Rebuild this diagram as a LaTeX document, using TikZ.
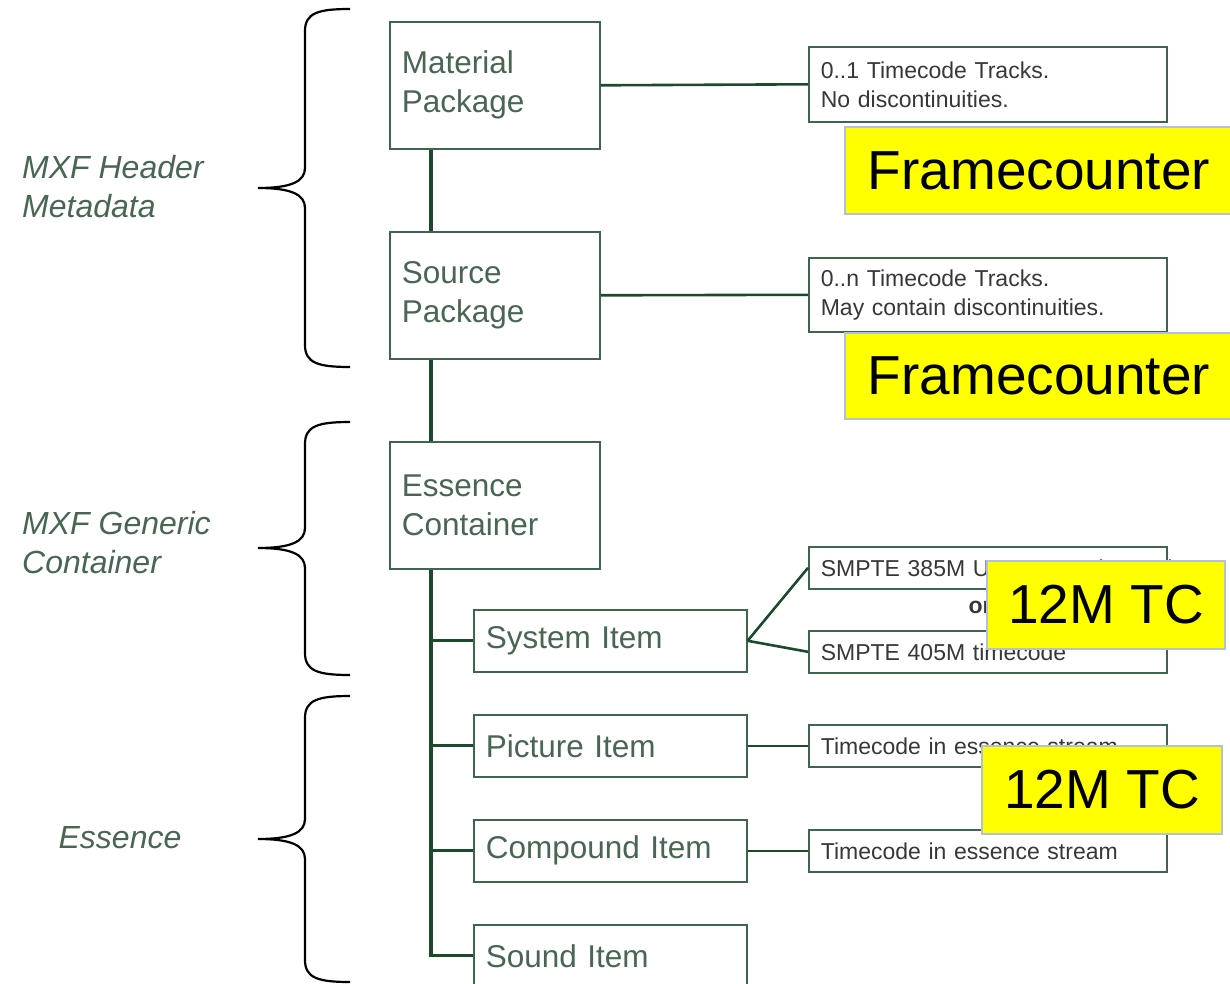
\documentclass[tikz,border=0pt]{standalone}
\usepackage{fontspec}
\setmainfont{Liberation Sans}
\usetikzlibrary{calc,positioning}
\definecolor{mxfline}{RGB}{30,74,44}
\definecolor{mxfbox}{RGB}{62,102,76}
\definecolor{mxftext}{RGB}{72,102,82}
\definecolor{mxfgray}{RGB}{55,55,55}
\definecolor{hiedge}{RGB}{180,192,214}
\definecolor{hifill}{RGB}{255,255,0}
% curly brace: top, tip, bottom (y in px)
\newcommand{\mxfbrace}[3]{%
  \draw[bracestyle] (350,#1) .. controls (318,#1) and (305,#1+4) .. (305,#1+22)
    -- (305,#2-20) .. controls (305,#2-6) and (290,#2) .. (258,#2)
    .. controls (290,#2) and (305,#2+6) .. (305,#2+20)
    -- (305,#3-22) .. controls (305,#3-4) and (318,#3) .. (350,#3);}

\begin{document}
\begin{tikzpicture}[x=1pt,y=-1pt,
    pkg/.style={draw=mxfbox, line width=1.6pt, fill=white, anchor=north west,
      minimum width=210pt, minimum height=127pt, text width=186pt, inner xsep=12pt,
      align=left, text=mxftext, font=\fontsize{31.5}{39}\selectfont},
    item/.style={pkg, minimum width=273pt, minimum height=62pt, text width=249pt},
    tcbox/.style={draw=mxfbox, line width=1.6pt, fill=white, anchor=north west,
      minimum width=358pt, text width=334pt, inner xsep=12pt, align=left,
      text=mxfgray, font=\fontsize{23}{29}\selectfont},
    hibox/.style={draw=hiedge, line width=1.5pt, fill=hifill, inner sep=0pt,
      font=\fontsize{55}{60}\selectfont},
    trunk/.style={draw=mxfline, line width=3.2pt},
    link/.style={draw=mxfline, line width=2.6pt},
    grouplabel/.style={text=mxftext, inner sep=0pt, align=left,
      font=\fontsize{32}{39}\selectfont\itshape},
    bracestyle/.style={draw=black, line width=2.2pt}]
  \useasboundingbox (0,0) rectangle (1230,984);

  % packages and items
  \node[pkg] (matpkg) at (389,21) {Material\\Package};
  \node[pkg] (srcpkg) at (389,231) {Source\\Package};
  \node[pkg] (esscont) at (389,441) {Essence\\Container};
  \node[item] (sysitem) at (473,609) {System Item};
  \node[item] (picitem) at (473,714) {Picture Item};
  \node[item] (cmpitem) at (473,819) {Compound Item};
  \node[item] (snditem) at (473,924) {Sound Item};

  \coordinate (trunktop) at ([xshift=42pt]matpkg.south west);
  \coordinate (trunkess) at ([xshift=42pt]esscont.south west);
  \draw[trunk] (trunktop) -- (trunktop |- srcpkg.north);
  \draw[trunk] (trunktop |- srcpkg.south) -- (trunktop |- esscont.north);
  \draw[trunk] (trunkess) |- (snditem.west);
  \foreach \it in {sysitem,picitem,cmpitem}
    \draw[trunk] (\it.west) -- (\it.west -| trunkess);

  % timecode boxes
  \node[tcbox, minimum height=75pt] (tcmat) at (808,46) {0..1 Timecode Tracks.\\No discontinuities.};
  \node[tcbox, minimum height=74pt] (tcsrc) at (808,257) {0..n Timecode Tracks.\\May contain discontinuities.};
  \node[tcbox, minimum height=42pt] (smpte385) at (808,546) {\mbox{SMPTE 385M User Data Timecode}};
  \node[tcbox, minimum height=42pt] (smpte405) at (808,630) {SMPTE 405M timecode};
  \node[text=mxfgray, inner sep=0pt, font=\fontsize{23}{29}\selectfont\bfseries] (orlabel) at (980,607) {or};
  \node[tcbox, minimum height=42pt] (tcpic) at (808,724) {Timecode in essence stream};
  \node[tcbox, minimum height=42pt] (tccmp) at (808,829) {Timecode in essence stream};

  \draw[link] (matpkg.east) -- (tcmat.west);
  \draw[link] (srcpkg.east) -- (tcsrc.west);
  \draw[link] (sysitem.east) -- (smpte385.west);
  \draw[link] (sysitem.east) -- (smpte405.west);
  \draw[link] (picitem.east) -- (tcpic.west);
  \draw[link] (cmpitem.east) -- (tccmp.west);

  % highlights
  \node[hibox, minimum width=388pt, minimum height=87pt] (fcmat) at (1039,170.5) {Framecounter};
  \node[hibox, minimum width=388pt, minimum height=86pt] (fcsrc) at (1039,376) {Framecounter};
  \node[hibox, minimum width=238pt, minimum height=88pt] (tcsys) at (1106,605) {12M TC};
  \node[hibox, minimum width=240pt, minimum height=88pt] (tcpicy) at (1102,790) {12M TC};

  % groups
  \mxfbrace{9}{188}{367}
  \mxfbrace{422}{548}{675}
  \mxfbrace{696}{839}{982}
  \node[grouplabel, anchor=west] (hdrlabel) at (22,187) {MXF Header\\Metadata};
  \node[grouplabel, anchor=west] (gclabel) at (22,543) {MXF Generic\\Container};
  \node[grouplabel] (esslabel) at (120,838) {Essence};
\end{tikzpicture}
\end{document}
